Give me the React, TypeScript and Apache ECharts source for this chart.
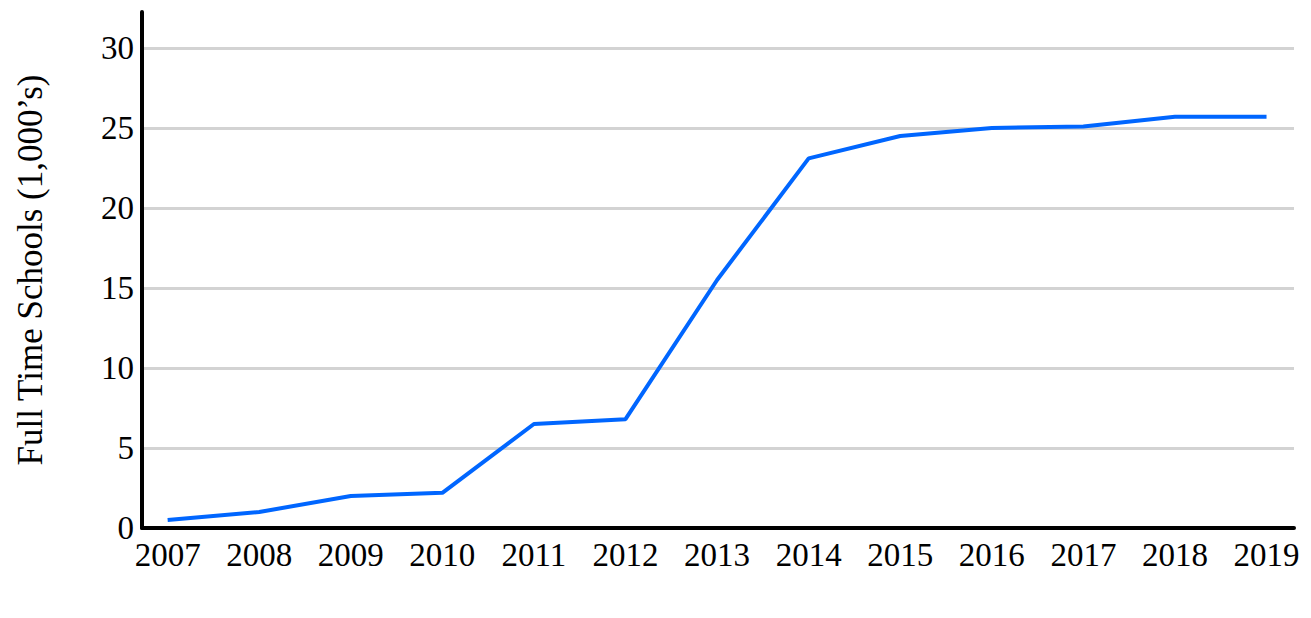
import React, { useEffect, useRef } from "react";
import * as echarts from "echarts";

const years = [2007, 2008, 2009, 2010, 2011, 2012, 2013, 2014, 2015, 2016, 2017, 2018, 2019];
const schools = [0.5, 1.0, 2.0, 2.2, 6.5, 6.8, 15.5, 23.1, 24.5, 25.0, 25.1, 25.7, 25.7];
const yTicks = [0, 5, 10, 15, 20, 25, 30];
const yTitle = "Full Time Schools (1,000’s)";

const FONT = "'Liberation Serif', 'Times New Roman', serif";

export default function App() {
  const ref = useRef<HTMLDivElement>(null);
  useEffect(() => {
    if (!ref.current) return;
    const chart = echarts.init(ref.current, null, { renderer: "svg" });
    chart.setOption({
      animation: false,
      grid: { left: 142, right: 17, top: 12, bottom: 90, containLabel: false },
      xAxis: {
        type: "value",
        min: 2006.72,
        max: 2019.3,
        axisLine: { show: true, lineStyle: { color: "#000", width: 4 } },
        axisTick: { show: false },
        splitLine: { show: false },
        axisLabel: {
          customValues: years,
          color: "#000",
          fontFamily: FONT,
          fontSize: 33,
          margin: 10,
          formatter: (v: number) => String(v),
        },
      },
      yAxis: {
        type: "value",
        min: 0,
        max: 32.25,
        name: yTitle,
        nameLocation: "middle",
        nameGap: 94,
        nameTextStyle: { color: "#000", fontFamily: FONT, fontSize: 35 },
        axisLine: { show: true, lineStyle: { color: "#000", width: 4 } },
        axisTick: { show: false, customValues: yTicks },
        axisLabel: {
          customValues: yTicks,
          color: "#000",
          fontFamily: FONT,
          fontSize: 33,
          margin: 8,
        },
        splitLine: {
          show: true,
          showMinLine: false,
          lineStyle: { color: "#d3d3d3", width: 3 },
        },
      },
      series: [
        {
          type: "line",
          data: years.map((y, i) => [y, schools[i]]),
          symbol: "none",
          lineStyle: { color: "#0066ff", width: 4 },
        },
      ],
    });
    return () => chart.dispose();
  }, []);
  return <div ref={ref} style={{ width: 1311, height: 618, margin: -8 }} />;
}
